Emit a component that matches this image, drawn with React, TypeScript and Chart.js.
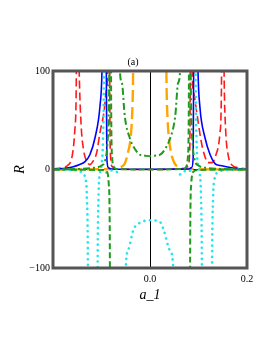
import React, { useEffect, useRef } from "react";
import { Chart, registerables } from "chart.js";
Chart.register(...registerables);

type P = [number, number] | null;

const xTicks = [-0.2, 0, 0.2];
const yTicks = [-100, 0, 100];
const panelLabel = "(a)";
const xTitle = "a_1";
const yTitle = "R";

const bluePts: P[] = [
  [-0.2, 0.3], [-0.18, 1], [-0.16, 2.5], [-0.145, 5], [-0.134, 8], [-0.124, 15], [-0.113, 33], [-0.103, 65], [-0.099, 100], [-0.096, 200], null,
  [-0.091, 200], [-0.089, 12], [-0.086, 2], [-0.08, 0.5], [0, 0.2], [0.08, 0.5], [0.086, 2], [0.089, 12], [0.091, 200], null,
  [0.096, 200], [0.099, 100], [0.103, 63], [0.113, 33], [0.124, 15], [0.134, 6], [0.145, 4], [0.16, 2.5], [0.18, 1], [0.2, 0.3],
];

const redPts: P[] = [
  [-0.2, 0.5], [-0.18, 2], [-0.17, 4], [-0.16, 15], [-0.155, 40], [-0.152, 90], [-0.151, 200], null,
  [-0.149, 200], [-0.146, 100], [-0.142, 45], [-0.137, 20], [-0.13, 8], [-0.124, 5], [-0.118, 8], [-0.11, 17], [-0.103, 38], [-0.095, 58], [-0.09, 80], [-0.087, 100], [-0.086, 200], null,
  [-0.084, 200], [-0.082, 20], [-0.078, 3], [-0.07, 0.5], [0, 0], [0.07, 0.5], [0.078, 3], [0.082, 20], [0.084, 200], null,
  [0.086, 200], [0.087, 100], [0.09, 78], [0.097, 56], [0.105, 30], [0.112, 15], [0.12, 7], [0.128, 7], [0.136, 15], [0.144, 36], [0.147, 70], [0.149, 200], null,
  [0.151, 200], [0.153, 90], [0.156, 40], [0.161, 15], [0.17, 4], [0.18, 2], [0.2, 0.5],
];

const cyanPts: P[] = [
  [-0.2, 0], [-0.16, -0.5], [-0.14, -3], [-0.133, -10], [-0.13, -30], [-0.128, -100], [-0.127, -250], [-0.109, -250], [-0.108, -100], [-0.106, -25], [-0.103, -3], [-0.1, 5], [-0.097, 30], [-0.095, 100], [-0.094, 250], null,
  [-0.09, -3], [-0.08, -1], [-0.07, -2], [-0.062, -5], null,
  [-0.053, -250], [-0.05, -100], [-0.045, -82], [-0.034, -61], [-0.02, -54], [0, -51.5], [0.02, -53], [0.028, -61], [0.041, -82], [0.048, -100], [0.051, -250], null,
  [0.062, -5], [0.07, -2], [0.08, -1], [0.09, -3], null,
  [0.093, 250], [0.094, 100], [0.096, 30], [0.099, 5], [0.102, -3], [0.105, -25], [0.107, -100], [0.108, -250], [0.127, -250], [0.128, -100], [0.13, -30], [0.133, -10], [0.14, -3], [0.16, -0.5], [0.2, 0],
];

const greenDashDotPts: P[] = [
  [-0.2, 0], [-0.15, 0.5], [-0.12, 1.5], [-0.1, 4], [-0.092, 10], [-0.088, 25], [-0.085, 60], [-0.084, 100], [-0.083, 250], null,
  [-0.064, 250], [-0.062, 100], [-0.058, 88], [-0.052, 54], [-0.041, 31], [-0.03, 20], [-0.021, 15], [-0.01, 14], [0, 13.5], [0.01, 14], [0.021, 15], [0.03, 20], [0.041, 31], [0.052, 54], [0.058, 88], [0.062, 100], [0.064, 250], null,
  [0.083, 250], [0.084, 100], [0.085, 60], [0.088, 25], [0.092, 10], [0.1, 4], [0.12, 1.5], [0.15, 0.5], [0.2, 0],
];

const greenDashPts: P[] = [
  [-0.2, 0], [-0.1, -0.5], [-0.088, -3], [-0.085, -15], [-0.083, -60], [-0.082, -250], null,
  [-0.081, 250], [-0.08, 60], [-0.078, 12], [-0.075, 3], [-0.07, 0.5], [0, 0], [0.07, 0.5], [0.075, 3], [0.078, 12], [0.08, 60], [0.081, 250], null,
  [0.082, -250], [0.083, -60], [0.085, -15], [0.088, -3], [0.1, -0.5], [0.2, 0],
];

const orangePts: P[] = [
  [-0.2, 0], [-0.1, 0.3], [-0.07, 1], [-0.06, 2.5], [-0.052, 6], [-0.045, 18], [-0.04, 32], [-0.037, 54], [-0.035, 90], [-0.034, 150], [-0.03, 300], [0, 400],
  [0.03, 300], [0.033, 150], [0.034, 90], [0.036, 54], [0.039, 32], [0.043, 18], [0.051, 6], [0.06, 2.5], [0.07, 1], [0.1, 0.3], [0.2, 0],
];

const toData = (pts: P[]) => pts.map((p) => (p ? { x: p[0], y: p[1] } : { x: NaN, y: null }));

const boxPlugin = {
  id: "boxPlugin",
  afterDraw(chart: any) {
    const { ctx, chartArea } = chart;
    ctx.save();
    ctx.strokeStyle = "#555555";
    ctx.lineWidth = 3;
    ctx.strokeRect(chartArea.left, chartArea.top, chartArea.right - chartArea.left, chartArea.bottom - chartArea.top);
    ctx.fillStyle = "#000";
    ctx.font = "10px 'Liberation Serif'";
    ctx.textAlign = "center";
    ctx.textBaseline = "middle";
    ctx.fillText(panelLabel, chartArea.left + 80, chartArea.top - 9);
    ctx.restore();
  },
};

export default function App() {
  const ref = useRef<HTMLCanvasElement>(null);
  useEffect(() => {
    const mk = (label: string, pts: P[], color: string, dash: number[], width: number, cap: any = "butt") => ({
      label,
      data: toData(pts).filter((d) => !(isNaN(d.x) && d.y === null) || true),
      borderColor: color,
      backgroundColor: color,
      borderWidth: width,
      borderDash: dash,
      borderCapStyle: cap,
      pointRadius: 0,
      fill: false,
      spanGaps: false,
      cubicInterpolationMode: "monotone" as const,
      clip: 0,
    });
    const chart = new Chart(ref.current!, {
      type: "line",
      data: {
        datasets: [
          mk("g2", greenDashDotPts, "#1f9a1f", [7, 3, 2, 3], 2),
          mk("g1", greenDashPts, "#1f9a1f", [6, 3], 2),
          mk("c", cyanPts, "#22e6ee", [0.1, 5.5], 2.6, "round"),
          mk("b", bluePts, "#0000ff", [], 1.6),
          mk("r", redPts, "#ff1a1a", [8, 4], 1.6),
          mk("o", orangePts, "#ffa500", [12, 5], 2.4),
        ] as any,
      },
      options: {
        animation: false,
        responsive: false,
        layout: { padding: { left: 0, right: 26, top: 71, bottom: 40 } },
        plugins: { legend: { display: false }, tooltip: { enabled: false }, title: { display: false } },
        scales: {
          x: {
            type: "linear",
            min: -0.2,
            max: 0.2,
            afterFit: (s: any) => { s.height = 45; },
            afterBuildTicks: (s: any) => { s.ticks = xTicks.map((v) => ({ value: v })); },
            ticks: {
              color: "#000",
              font: { family: "'Liberation Serif'", size: 10 },
              padding: 5,
              maxRotation: 0,
              autoSkip: false,
              callback: (v: any) => (Math.abs(v) < 1e-9 ? "0.0" : v > 0 ? Number(v).toFixed(1) : ""),
            },
            grid: {
              drawTicks: false,
              color: (c: any) => (c.tick && Math.abs(c.tick.value) < 1e-9 ? "#000" : "rgba(0,0,0,0)"),
              lineWidth: 1,
            },
            border: { display: false },
            title: { display: true, text: xTitle, color: "#000", font: { family: "'Liberation Serif'", size: 14, style: "italic" }, padding: { top: 0, bottom: 9 } },
          },
          y: {
            type: "linear",
            min: -100,
            max: 100,
            afterFit: (s: any) => { s.width = 53; },
            afterBuildTicks: (s: any) => { s.ticks = yTicks.map((v) => ({ value: v })); },
            ticks: {
              color: "#000",
              font: { family: "'Liberation Serif'", size: 10 },
              padding: 3,
              autoSkip: false,
              callback: (v: any) => (v < 0 ? "\u2212" + Math.abs(v) : String(v)),
            },
            grid: {
              drawTicks: false,
              color: (c: any) => (c.tick && Math.abs(c.tick.value) < 1e-9 ? "#000" : "rgba(0,0,0,0)"),
              lineWidth: 1,
            },
            border: { display: false },
            title: { display: true, text: yTitle, color: "#000", font: { family: "'Liberation Serif'", size: 14, style: "italic" }, padding: { top: 12, bottom: 0 } },
          },
        },
      },
      plugins: [boxPlugin],
    });
    return () => chart.destroy();
  }, []);
  return (
    <div style={{ position: "absolute", left: 0, top: 0, width: 273, height: 353, background: "#fff" }}>
      <canvas ref={ref} width={273} height={353} />
    </div>
  );
}
